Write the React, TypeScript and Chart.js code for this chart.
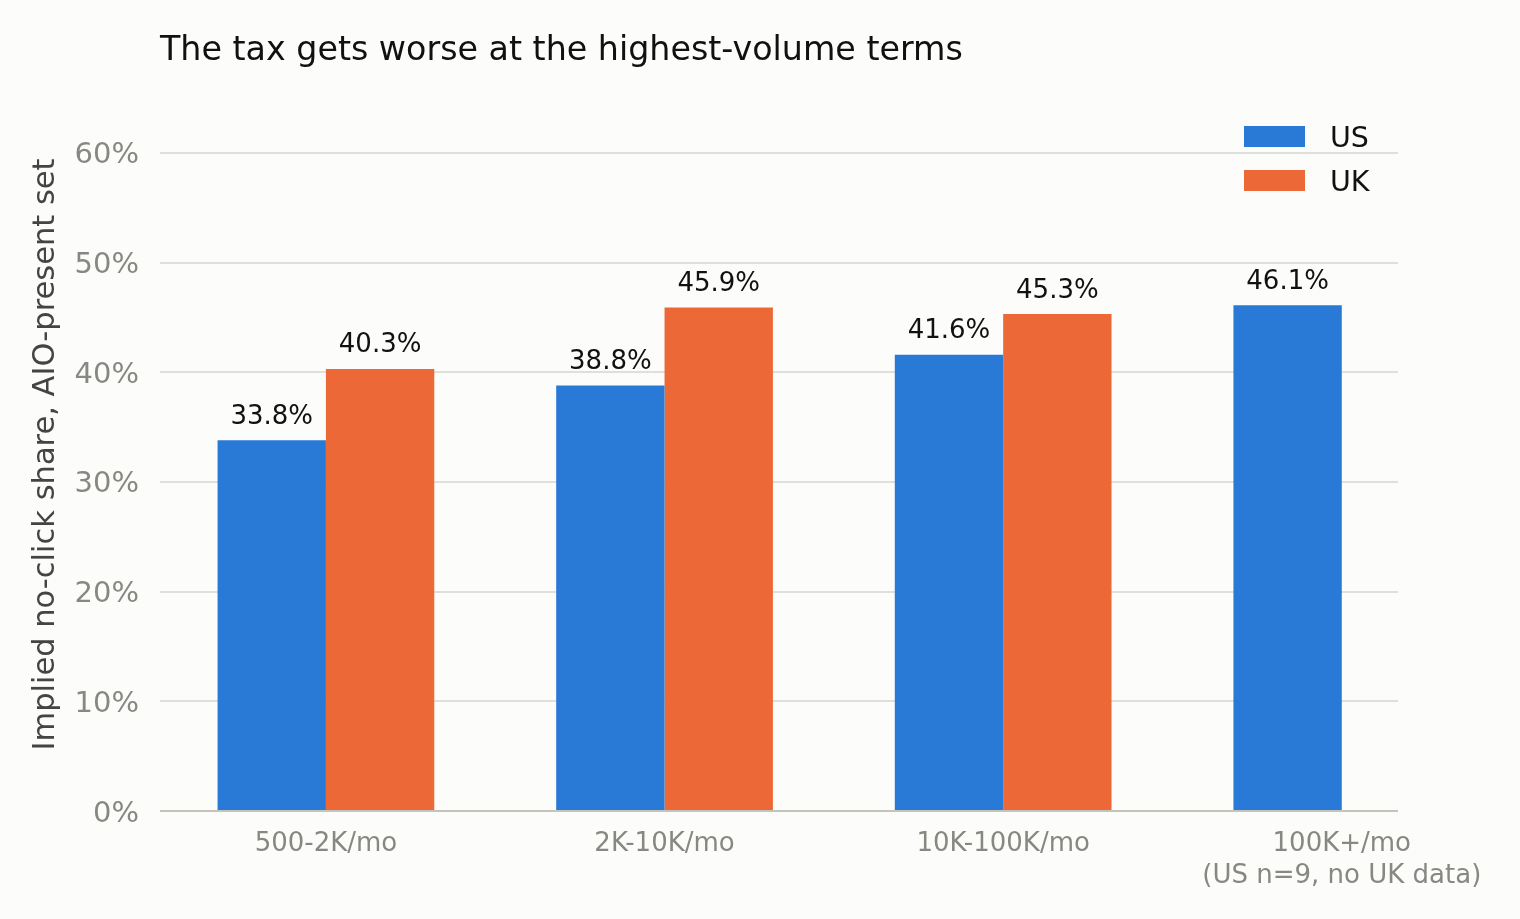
import React, { useEffect, useRef } from "react";
import { Chart, registerables } from "chart.js";

Chart.register(...registerables);

const TITLE = "The tax gets worse at the highest-volume terms";
const Y_TITLE = "Implied no-click share, AIO-present set";
const CATEGORIES: string[][] = [
  ["500-2K/mo"],
  ["2K-10K/mo"],
  ["10K-100K/mo"],
  ["100K+/mo", "(US n=9, no UK data)"],
];
const SERIES_NAMES = ["US", "UK"];
const SERIES_COLORS = ["#2979d6", "#ec6836"];
const US_VALUES: (number | null)[] = [33.8, 38.8, 41.6, 46.1];
const UK_VALUES: (number | null)[] = [40.3, 45.9, 45.3, null];
const Y_TICKS = [0, 10, 20, 30, 40, 50, 60];
const Y_MAX = 65;

const FONT = '"DejaVu Sans", "Liberation Sans", sans-serif';
const BG = "#fcfcfa";

const bgPlugin = {
  id: "bg",
  beforeDraw(chart: any) {
    const { ctx, width, height } = chart;
    ctx.save();
    ctx.fillStyle = BG;
    ctx.fillRect(0, 0, width, height);
    ctx.restore();
  },
};

const titlePlugin = {
  id: "titleText",
  afterDraw(chart: any) {
    const { ctx, chartArea } = chart;
    ctx.save();
    ctx.font = `33.3px ${FONT}`;
    ctx.fillStyle = "#111111";
    ctx.textAlign = "left";
    ctx.textBaseline = "alphabetic";
    ctx.fillText(TITLE, chartArea.left, 60);
    ctx.restore();
  },
};

const legendPlugin = {
  id: "customLegend",
  afterDraw(chart: any) {
    const { ctx, chartArea } = chart;
    ctx.save();
    ctx.font = `28.5px ${FONT}`;
    ctx.textAlign = "left";
    ctx.textBaseline = "alphabetic";
    chart.data.datasets.forEach((ds: any, i: number) => {
      const py = chartArea.top + 28 + i * 44;
      ctx.fillStyle = ds.backgroundColor;
      ctx.fillRect(chartArea.right - 154, py, 61, 21);
      ctx.fillStyle = "#111111";
      ctx.fillText(ds.label, chartArea.right - 68, py + 21);
    });
    ctx.restore();
  },
};

const valueLabelPlugin = {
  id: "valueLabels",
  afterDatasetsDraw(chart: any) {
    const { ctx } = chart;
    ctx.save();
    ctx.font = `26px ${FONT}`;
    ctx.fillStyle = "#111111";
    ctx.textAlign = "center";
    ctx.textBaseline = "alphabetic";
    chart.data.datasets.forEach((ds: any, di: number) => {
      const meta = chart.getDatasetMeta(di);
      meta.data.forEach((el: any, i: number) => {
        const v = ds.data[i].y;
        if (v === null || v === undefined) return;
        ctx.fillText(`${v.toFixed(1)}%`, el.x, el.y - 16.5);
      });
    });
    ctx.restore();
  },
};

export default function App() {
  const ref = useRef<HTMLCanvasElement | null>(null);

  useEffect(() => {
    document.body.style.margin = "0";
    document.body.style.background = BG;
    const canvas = ref.current;
    if (!canvas) return;
    const toPoints = (vals: (number | null)[]) => vals.map((v, i) => ({ x: i, y: v }));
    const chart = new Chart(canvas, {
      type: "bar",
      data: {
        datasets: [
          {
            label: SERIES_NAMES[0],
            data: toPoints(US_VALUES) as any,
            backgroundColor: SERIES_COLORS[0],
            borderWidth: 0,
            categoryPercentage: 0.64,
            barPercentage: 1.0,
          },
          {
            label: SERIES_NAMES[1],
            data: toPoints(UK_VALUES) as any,
            backgroundColor: SERIES_COLORS[1],
            borderWidth: 0,
            categoryPercentage: 0.64,
            barPercentage: 1.0,
          },
        ],
      },
      options: {
        responsive: false,
        animation: false,
        devicePixelRatio: 1,
        layout: { padding: { left: 0, right: 122, top: 98, bottom: 0 } },
        plugins: {
          legend: { display: false },
          title: { display: false },
          tooltip: { enabled: false },
        },
        scales: {
          x: {
            type: "linear",
            offset: false,
            min: -0.49,
            max: 3.166,
            grid: { display: false, drawTicks: false },
            border: { display: false },
            afterBuildTicks: (scale: any) => {
              scale.ticks = CATEGORIES.map((_, i) => ({ value: i }));
            },
            afterFit: (scale: any) => {
              scale.height = 108;
            },
            ticks: {
              autoSkip: false,
              maxRotation: 0,
              padding: 18,
              color: "#888883",
              font: { family: FONT, size: 26 },
              callback: (v: any) => CATEGORIES[Math.round(Number(v))] as any,
            },
          },
          y: {
            type: "linear",
            min: 0,
            max: Y_MAX,
            afterBuildTicks: (scale: any) => {
              scale.ticks = Y_TICKS.map((v) => ({ value: v }));
            },
            afterFit: (scale: any) => {
              scale.width = 160;
            },
            grid: {
              drawTicks: false,
              lineWidth: 2,
              color: (ctx: any) => (ctx.tick && ctx.tick.value === 0 ? "#c4c4bc" : "#e0e0da"),
            },
            border: { display: false },
            ticks: {
              padding: 21,
              labelOffset: 3,
              color: "#888883",
              font: { family: FONT, size: 29 },
              callback: (v: any) => `${v}%`,
            },
            title: {
              display: true,
              text: Y_TITLE,
              color: "#444444",
              font: { family: FONT, size: 30.5 },
              padding: { top: 28, bottom: 0 },
            },
          },
        },
      },
      plugins: [bgPlugin, titlePlugin, legendPlugin, valueLabelPlugin],
    } as any);
    return () => chart.destroy();
  }, []);

  return (
    <div style={{ width: 1520, height: 919, background: BG }}>
      <canvas ref={ref} width={1520} height={919} style={{ display: "block" }} />
    </div>
  );
}
